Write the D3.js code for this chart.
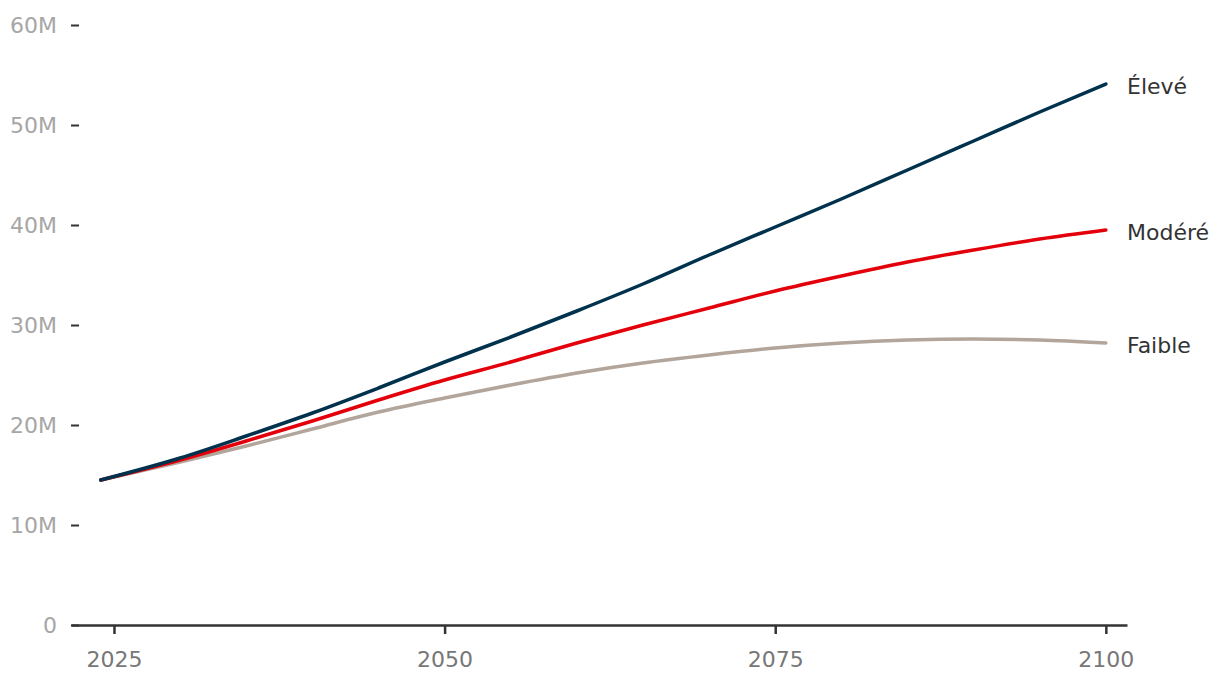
<!DOCTYPE html>
<html>
<head>
<meta charset="utf-8">
<script src="https://cdn.jsdelivr.net/npm/d3@7"></script>
<style>
  html, body { margin: 0; padding: 0; background: #fff; }
  svg, svg text { font-family: "DejaVu Sans", "Noto Sans", sans-serif; }
  svg { display: block; }
</style>
</head>
<body>
<svg id="chart" width="1220" height="686"></svg>
<script>
const years = [2024, 2030, 2035, 2040, 2045, 2050, 2055, 2060, 2065, 2070, 2075, 2080, 2085, 2090, 2095, 2100];
const eleve  = [14.5, 16.7, 18.9, 21.2, 23.7, 26.3, 28.8, 31.4, 34.1, 37.0, 39.8, 42.6, 45.5, 48.4, 51.3, 54.1];
const modere = [14.5, 16.5, 18.4, 20.4, 22.5, 24.5, 26.3, 28.2, 30.0, 31.7, 33.4, 34.9, 36.3, 37.5, 38.6, 39.5];
const faible = [14.5, 16.3, 17.9, 19.6, 21.3, 22.7, 24.0, 25.2, 26.2, 27.0, 27.7, 28.2, 28.5, 28.6, 28.5, 28.2];
const seriesNames = ["Élevé", "Modéré", "Faible"];
const seriesColors = ["#00324d", "#e3000b", "#b2a59b"];
const xTickValues = [2025, 2050, 2075, 2100];
const yTickValues = [0, 10, 20, 30, 40, 50, 60];
const yTickLabels = ["0", "10M", "20M", "30M", "40M", "50M", "60M"];

const series = [eleve, modere, faible].map((vals, i) => ({
  name: seriesNames[i], color: seriesColors[i],
  points: years.map((y, j) => ({ year: y, value: vals[j] }))
}));

const FONT = '"DejaVu Sans", "Noto Sans", sans-serif';
const svg = d3.select("#chart");
const x = d3.scaleLinear().domain([2021.75, 2101.6]).range([71, 1127]);
const y = d3.scaleLinear().domain([0, 60]).range([625, 25]);

// Y axis (no domain line, short tick marks, grey labels)
const yAxis = svg.append("g").attr("transform", "translate(71,0)")
  .call(d3.axisRight(y).tickValues(yTickValues).tickSize(8)
    .tickFormat((d, i) => yTickLabels[i]).tickPadding(0))
  .attr("font-family", FONT).attr("font-size", 22);
yAxis.select(".domain").remove();
yAxis.selectAll(".tick line").attr("stroke", "#333").attr("stroke-width", 2);
yAxis.selectAll(".tick text")
  .attr("x", -14).attr("dy", "0.36em").attr("text-anchor", "end")
  .attr("fill", "#a6a6a6");

// X axis
const xAxis = svg.append("g").attr("transform", "translate(0,625)")
  .call(d3.axisBottom(x).tickValues(xTickValues).tickFormat(d3.format("d"))
    .tickSize(9).tickSizeOuter(0).tickPadding(17))
  .attr("font-family", FONT).attr("font-size", 22);
xAxis.select(".domain").attr("stroke", "#333").attr("stroke-width", 2.5);
xAxis.selectAll(".tick line").attr("stroke", "#333").attr("stroke-width", 2.5);
xAxis.selectAll(".tick text").attr("fill", "#777");

// Lines
const line = d3.line().x(d => x(d.year)).y(d => y(d.value)).curve(d3.curveMonotoneX);
svg.append("g").selectAll("path").data(series.slice().reverse()).join("path")
  .attr("d", d => line(d.points))
  .attr("fill", "none")
  .attr("stroke", d => d.color)
  .attr("stroke-width", 3.5)
  .attr("stroke-linecap", "round");

// End labels
svg.append("g").attr("font-family", FONT).attr("font-size", 22)
  .selectAll("text").data(series).join("text")
  .attr("x", 1127)
  .attr("y", d => y(d.points[d.points.length - 1].value) + 2)
  .attr("dy", "0.35em")
  .attr("fill", "#333")
  .text(d => d.name);
</script>
</body>
</html>
